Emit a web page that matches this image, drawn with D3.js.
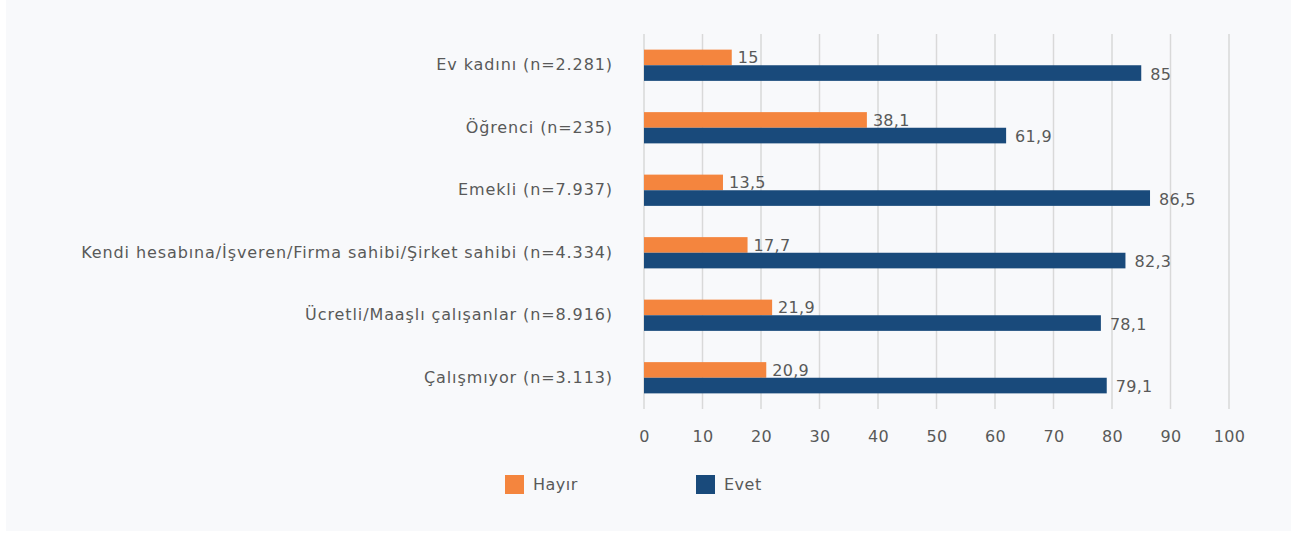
<!DOCTYPE html>
<html><head><meta charset="utf-8">
<script src="https://cdn.jsdelivr.net/npm/d3@7"></script>
<style>
html,body{margin:0;padding:0;background:#ffffff;}
svg{display:block;}
text{font-family:"DejaVu Sans",sans-serif;fill:#595959;}
</style></head>
<body>
<svg id="chart" width="1297" height="533"></svg>
<script>
const categories = [
  "Ev kadını (n=2.281)",
  "Öğrenci (n=235)",
  "Emekli (n=7.937)",
  "Kendi hesabına/İşveren/Firma sahibi/Şirket sahibi (n=4.334)",
  "Ücretli/Maaşlı çalışanlar (n=8.916)",
  "Çalışmıyor (n=3.113)"
];
const seriesNames = ["Hayır", "Evet"];
const hayir = [15, 38.1, 13.5, 17.7, 21.9, 20.9];
const evet = [85, 61.9, 86.5, 82.3, 78.1, 79.1];
const xTicks = [0,10,20,30,40,50,60,70,80,90,100];
const colors = ["#F4853E", "#194A7B"];

const svg = d3.select("#chart");
svg.append("rect").attr("x",6).attr("y",0).attr("width",1285).attr("height",531).attr("fill","#f8f9fb");

const x = d3.scaleLinear().domain([0,100]).range([644,1229]);
const y = d3.scaleBand().domain(categories).range([34,409]).paddingInner(0.5).paddingOuter(0.25);
const ySub = d3.scaleBand().domain(seriesNames).range([0, y.bandwidth()]);

// gridlines
svg.append("g").selectAll("line").data(xTicks).join("line")
  .attr("x1", d=>x(d)).attr("x2", d=>x(d)).attr("y1",34).attr("y2",409)
  .attr("stroke","#d9d9d9").attr("stroke-width",1.5);

// x axis labels
const xAxis = d3.axisBottom(x).tickValues(xTicks).tickSize(0).tickPadding(0).tickFormat(d3.format("d"));
const gx = svg.append("g").attr("transform","translate(0,431)").call(xAxis);
gx.select(".domain").remove();
gx.selectAll("text").attr("font-size","16px").attr("fill","#595959").attr("dy","0.71em")
  .style("letter-spacing","0.3px")
  .style("font-family","'DejaVu Sans',sans-serif");

// y axis labels
const yAxis = d3.axisLeft(y).tickSize(0).tickPadding(0);
const gy = svg.append("g").attr("transform","translate(613,0)").call(yAxis);
gy.select(".domain").remove();
gy.selectAll("text").attr("font-size","16px").attr("fill","#595959")
  .style("letter-spacing","0.9px")
  .style("font-family","'DejaVu Sans',sans-serif");

const fmt = v => String(v).replace(".", ",");
const data = [];
categories.forEach((c,i)=>{
  data.push({c, s:"Hayır", v:hayir[i], col:colors[0]});
  data.push({c, s:"Evet", v:evet[i], col:colors[1]});
});

svg.append("g").selectAll("rect").data(data).join("rect")
  .attr("x", x(0))
  .attr("y", d=>y(d.c)+ySub(d.s))
  .attr("width", d=>x(d.v)-x(0))
  .attr("height", ySub.bandwidth())
  .attr("fill", d=>d.col);

svg.append("g").selectAll("text").data(data).join("text")
  .attr("x", d=>x(d.v)+ (d.s==="Hayır"?6:9))
  .attr("y", d=>y(d.c)+ySub(d.s)+ySub.bandwidth()/2 + (d.s==="Evet"?1:0))
  .attr("dy","0.35em")
  .attr("font-size","16px")
  .style("letter-spacing","0.3px")
  .text(d=>fmt(d.v));

// legend
const legendX = [505, 696];
const lg = svg.append("g").selectAll("g").data(seriesNames).join("g")
  .attr("transform", (d,i)=>`translate(${legendX[i]},475)`);
lg.append("rect").attr("width",19).attr("height",19).attr("fill",(d,i)=>colors[i]);
lg.append("text").attr("x",28).attr("y",9.5).attr("dy","0.35em").attr("font-size","16px")
  .style("letter-spacing","0.5px").text(d=>d);
</script>
</body></html>
